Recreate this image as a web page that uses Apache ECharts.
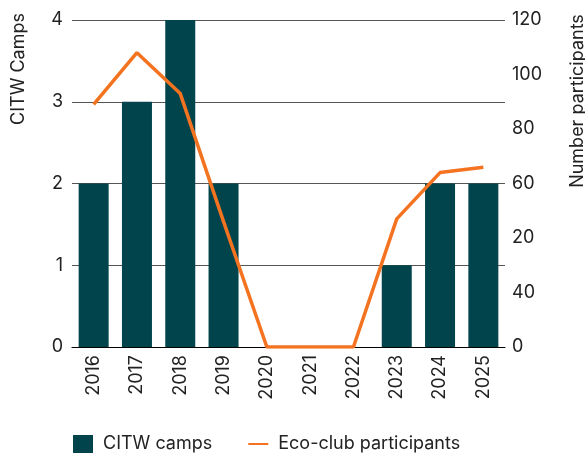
<!DOCTYPE html>
<html>
<head>
<meta charset="utf-8">
<script src="https://cdn.jsdelivr.net/npm/echarts@6/dist/echarts.min.js"></script>
<style>html,body{margin:0;padding:0;background:#fff}#c{width:585px;height:455px}</style>
</head>
<body>
<div id="c"></div>
<script>
const years = ['2016','2017','2018','2019','2020','2021','2022','2023','2024','2025'];
const camps = [2, 3, 4, 2, 0, 0, 0, 1, 2, 2];
const participants = [89, 108, 93, 46, 0, 0, 0, 47, 64, 66];
const rightTickLabels = ['0', '40', '20', '60', '80', '100', '120'];
const leftTitle = 'CITW Camps';
const rightTitle = 'Number participants';

const FONT = 'Inter, "Open Sans", sans-serif';
const chart = echarts.init(document.getElementById('c'), null, {renderer: 'canvas'});
chart.setOption({
  animation: false,
  backgroundColor: '#fff',
  grid: {left: 72, right: 80, top: 20, bottom: 108, containLabel: false},
  legend: {
    left: 73, bottom: 2, padding: 0,
    itemGap: 36, itemWidth: 20, itemHeight: 18,
    textStyle: {fontFamily: FONT, fontSize: 18, color: '#222', padding: [0, 0, 0, 5]},
    data: [
      {name: 'CITW camps', icon: 'rect'},
      {name: 'Eco-club participants', icon: 'path://M0,0h20v2h-20z', itemStyle: {color: '#F47321'}}
    ]
  },
  xAxis: {
    type: 'category',
    data: years,
    axisLine: {show: true, lineStyle: {color: '#000', width: 1}},
    axisTick: {show: false},
    axisLabel: {rotate: 90, margin: 8, fontFamily: FONT, fontSize: 18, color: '#222'}
  },
  yAxis: [
    {
      type: 'value', min: 0, max: 4, interval: 1,
      axisLine: {show: false}, axisTick: {show: false},
      splitLine: {show: true, lineStyle: {color: '#555', width: 1}},
      axisLabel: {margin: 9, fontFamily: FONT, fontSize: 18, color: '#222'}
    },
    {
      type: 'value', min: 0, max: 120, interval: 20,
      axisLine: {show: false}, axisTick: {show: false},
      splitLine: {show: false},
      axisLabel: {
        margin: 7, fontFamily: FONT, fontSize: 18, color: '#222',
        formatter: function (v) { return rightTickLabels[Math.round(v / 20)]; }
      }
    }
  ],
  graphic: [
    {type: 'text', x: 19, y: 69, rotation: Math.PI / 2,
     style: {text: leftTitle, align: 'center', verticalAlign: 'middle', font: '18px ' + FONT, fill: '#222'}},
    {type: 'text', x: 578, y: 101, rotation: Math.PI / 2,
     style: {text: rightTitle, align: 'center', verticalAlign: 'middle', font: '18px ' + FONT, fill: '#222'}}
  ],
  series: [
    {
      name: 'CITW camps', type: 'bar', yAxisIndex: 0,
      data: camps, barWidth: 30,
      itemStyle: {color: '#02444C'}
    },
    {
      name: 'Eco-club participants', type: 'line', yAxisIndex: 1,
      data: participants, symbol: 'none',
      lineStyle: {color: '#F47321', width: 3.5},
      itemStyle: {color: '#F47321'}
    }
  ]
});
</script>
</body>
</html>
